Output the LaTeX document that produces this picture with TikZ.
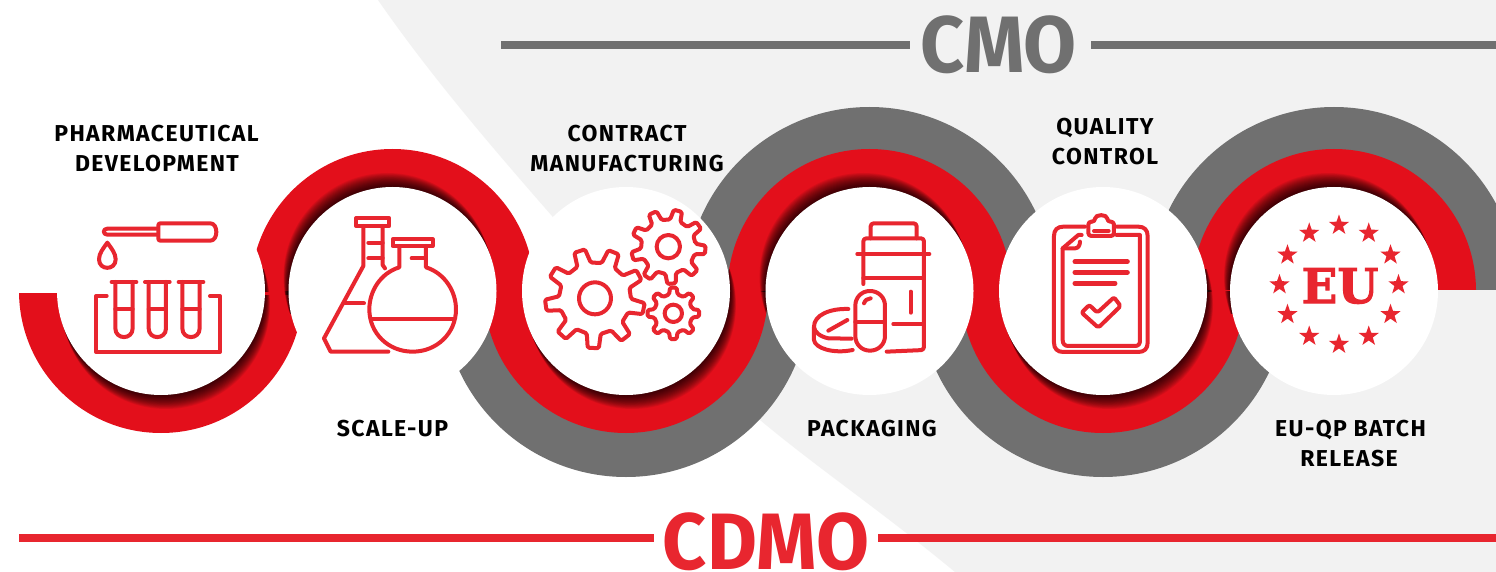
\documentclass[tikz,border=0pt]{standalone}
\usepackage{fontspec}
\setmainfont{Fira Sans}[LetterSpace=6]
\newfontfamily\headfont{Fira Sans}[FakeStretch=0.96]
\newfontfamily\slabfont{DejaVu Serif}[FakeBold=2,FakeStretch=0.98]
\definecolor{bandred}{HTML}{E30F1B}
\definecolor{iconred}{HTML}{E8262F}
\definecolor{bandgrey}{HTML}{707070}
\definecolor{bgrey}{HTML}{F2F2F2}
\tikzset{
  disc/.style={circle,fill=white,inner sep=0pt,minimum size=208pt},
  iconline/.style={draw=iconred,line width=4pt,line cap=round,line join=round},
  zoomed/.style={x=0.33333pt,y=-0.33333pt},
  lab/.style={text=black,font=\fontsize{23}{27}\selectfont\bfseries,inner sep=0pt,anchor=base},
}
% half band: x, centre y, cut y, radius, direction (+1 lower, -1 upper), colour
\newcommand\halfband[6]{\begin{scope}
  \clip (#1-#4-1,#3) rectangle (#1+#4+1,#3+#5*#4+#5*3);
  \fill[#6] (#1,#2) circle[radius=#4];
\end{scope}}
\newcommand\softshadow[3]{\foreach \k in {1,...,16}{
    \fill[black,opacity=0.07] ({#1+#2*\k/16},{291+#3*\k/16}) circle[radius=104];
  }}
% red band with soft shadow of the disc: x, cut y, dir, shadow dx, dy
\newcommand\redband[5]{\begin{scope}
  \clip (#1-143,#2) rectangle (#1+143,#2+#3*146);
  \fill[bandred] (#1,291) circle[radius=142];
  \softshadow{#1}{#4}{#5}
\end{scope}}
% tail of a disc's shadow on the neighbouring band: x, neighbour x, dir, dx, dy
\newcommand\shadowtail[5]{\begin{scope}
  \clip (#2,291) circle[radius=142];
  \clip (#1-143,291) rectangle (#1+143,291-#3*22);
  \softshadow{#1}{#4}{#5}
\end{scope}}
\newcommand\gearicon[6]{\begin{scope}[shift={(#1,#2)}]
  \pgfmathsetmacro\gs{360/#3}
  \draw[iconline,rounded corners=1.5pt] ({#6-.28*\gs}:#5)
    \foreach \k in {1,...,#3}{
      -- ({#6+(\k-1)*\gs-.28*\gs}:#5)
      -- ({#6+(\k-1)*\gs-.16*\gs}:#4)
      -- ({#6+(\k-1)*\gs+.16*\gs}:#4)
      -- ({#6+(\k-1)*\gs+.28*\gs}:#5)
    } -- cycle;
\end{scope}}
\newcommand\staricon[3]{\begin{scope}[shift={(#1,#2)}]
  \fill[iconred] (-90:#3) -- (-54:.40*#3) -- (-18:#3) -- (18:.40*#3) -- (54:#3) -- (90:.40*#3)
     -- (126:#3) -- (162:.40*#3) -- (198:#3) -- (234:.40*#3) -- cycle;
\end{scope}}
\begin{document}
\begin{tikzpicture}[x=1pt,y=-1pt]
\useasboundingbox (0,0) rectangle (1496,572);
\fill[white] (0,0) rectangle (1496,572);
% grey field
\fill[bgrey] (378,0) -- (1496,0) -- (1496,572) -- (955,572)
  .. controls (880,510) and (820,470) .. (760,420)
  .. controls (680,350) and (610,285) .. (552,216)
  .. controls (490,145) and (430,75) .. (378,0) -- cycle;
% grey bands
\halfband{626}{293}{291}{184}{1}{bandgrey}
\halfband{869.5}{291}{291}{184}{-1}{bandgrey}
\halfband{1103}{293}{291}{184}{1}{bandgrey}
\halfband{1334}{291}{289.5}{184}{-1}{bandgrey}
% red bands
\redband{161}{293}{1}{5}{14}
\redband{392.5}{294}{-1}{-5}{-14}
\redband{626}{291}{1}{6}{14}
\redband{869.5}{291}{-1}{-6}{-14}
\redband{1103}{288.5}{1}{6}{14}
\redband{1334}{289.5}{-1}{-6}{-14}
\shadowtail{161}{392.5}{1}{5}{14}
\shadowtail{392.5}{161}{-1}{-5}{-14}
\shadowtail{626}{869.5}{1}{6}{14}
\shadowtail{869.5}{626}{-1}{-6}{-14}
\shadowtail{1103}{1334}{1}{6}{14}
\shadowtail{1334}{1103}{-1}{-6}{-14}
% discs
\node[disc] (d1) at (161,291) {};
\node[disc] (d2) at (392.5,291) {};
\node[disc] (d3) at (626,291) {};
\node[disc] (d4) at (869.5,291) {};
\node[disc] (d5) at (1103,291) {};
\node[disc] (d6) at (1334,291) {};
% headings
\draw[bandgrey,line width=8pt] (501,45) -- (910,45);
\draw[bandgrey,line width=8pt] (1091,45) -- (1496,45);
\node[text=bandgrey,inner sep=0pt,font=\fontsize{80}{80}\selectfont\headfont\bfseries] (cmo) at (998.5,45) {CMO};
\draw[iconred,line width=8pt] (19,538) -- (654,538);
\draw[iconred,line width=8pt] (878,538) -- (1496,538);
\node[text=iconred,inner sep=0pt,font=\fontsize{80}{80}\selectfont\headfont\bfseries] (cdmo) at (766,542) {CDMO};
% labels
\node[lab] (l1a) at (156.5,142) {PHARMACEUTICAL};
\node[lab] (l1b) at (157,172) {DEVELOPMENT};
\node[lab] (l2) at (392.5,436) {SCALE-UP};
\node[lab] (l3a) at (627,142) {CONTRACT};
\node[lab] (l3b) at (627,172) {MANUFACTURING};
\node[lab] (l4) at (872,436) {PACKAGING};
\node[lab] (l5a) at (1105,135) {QUALITY};
\node[lab] (l5b) at (1105,165) {CONTROL};
\node[lab] (l6a) at (1350.5,436) {EU-QP BATCH};
\node[lab] (l6b) at (1349,466) {RELEASE};
% icon 1
\begin{scope}[zoomed,shift={(0,540)}]
  \draw[iconline] (470,146) -- (322,146) .. controls (308,146) and (308,164) .. (322,164) -- (470,164);
  \draw[iconline,rounded corners=2pt] (475,130) -- (625,130) .. controls (655,130) and (655,182) .. (625,182) -- (475,182) -- cycle;
  \draw[iconline] (322,188) .. controls (310,205) and (297,220) .. (297,238) .. controls (297,272) and (347,272) .. (347,238) .. controls (347,220) and (334,205) .. (322,188) -- cycle;
  \foreach \cx in {372,472,573}{
    \draw[iconline] (\cx-37,306) -- (\cx+37,306);
    \draw[iconline] (\cx-26,306) -- (\cx-26,445) .. controls (\cx-26,480) and (\cx+26,480) .. (\cx+26,445) -- (\cx+26,306);
    \draw[iconline] (\cx-26,388) -- (\cx+26,388);
  }
  \draw[iconline] (320,348) -- (288,348) -- (288,516) -- (660,516) -- (660,348) -- (630,348);
\end{scope}
% icon 2
\begin{scope}[zoomed,shift={(0,540)}]
  \draw[iconline] (1068,115) -- (1168,115) -- (1168,138) -- (1068,138) -- cycle;
  \draw[iconline] (1090,138) -- (1090,258) -- (972,475) -- (992,515) -- (1165,515);
  \draw[iconline] (1148,138) -- (1148,255) -- (1155,265);
  \draw[iconline] (1105,188) -- (1148,188);
  \draw[iconline] (1105,235) -- (1148,235);
  \draw[iconline] (1035,370) -- (1092,370);
  \draw[iconline] (1178,178) -- (1298,178) -- (1298,198) -- (1178,198) -- cycle;
  \draw[iconline] (1198,198) -- (1198,262) .. controls (1140,280) and (1108,335) .. (1108,388)
     .. controls (1108,460) and (1165,515) .. (1238,515) .. controls (1310,515) and (1368,460) .. (1368,388)
     .. controls (1368,335) and (1335,280) .. (1278,262) -- (1278,198);
  \draw[iconline] (1115,416) -- (1360,416);
  \draw[iconline] (1235,235) -- (1278,235);
\end{scope}
% icon 3
\begin{scope}[zoomed,shift={(1500,540)}]
  \gearicon{285}{355}{9}{150}{108}{12}
  \draw[iconline] (285,355) circle[radius=48];
  \gearicon{505}{200}{9}{112}{82}{5}
  \draw[iconline] (505,200) circle[radius=35];
  \gearicon{520}{400}{8}{78}{58}{0}
  \draw[iconline] (520,400) circle[radius=26];
\end{scope}
% icon 4
\begin{scope}[zoomed,shift={(1500,540)}]
  \draw[iconline,rounded corners=3pt] (1112,175) -- (1112,130) -- (1250,130) -- (1250,175);
  \draw[iconline,rounded corners=3pt] (1090,312) -- (1090,175) -- (1272,175) -- (1272,510) -- (1160,515);
  \draw[iconline] (1072,222) -- (1288,222);
  \draw[iconline] (1090,295) -- (1272,295);
  \draw[iconline] (1232,335) -- (1232,398);
  \draw[iconline] (1180,432) -- (1272,432);
  \draw[iconline] (1110,333) .. controls (1085,333) and (1066,352) .. (1066,377) -- (1066,468)
     .. controls (1066,493) and (1085,512) .. (1110,512) .. controls (1135,512) and (1155,493) .. (1155,468)
     -- (1155,377) .. controls (1155,352) and (1135,333) .. (1110,333) -- cycle;
  \draw[iconline] (1066,425) -- (1155,425);
  \draw[iconline] (1092,370) .. controls (1096,360) and (1102,356) .. (1112,355);
  \draw[iconline] (1045,387) .. controls (990,385) and (942,405) .. (942,440)
     .. controls (942,455) and (960,470) .. (985,475) -- (1055,476);
  \draw[iconline] (942,440) -- (942,480) .. controls (945,505) and (1000,522) .. (1058,510);
  \draw[iconline] (985,452) -- (1042,420);
\end{scope}
% icon 5
\begin{scope}[zoomed,shift={(3000,540)}]
  \draw[iconline] (255,140) -- (190,140) .. controls (172,140) and (162,150) .. (162,168) -- (162,488)
     .. controls (162,506) and (172,516) .. (190,516) -- (415,516) .. controls (433,516) and (443,506) .. (443,488)
     -- (443,168) .. controls (443,150) and (433,140) .. (415,140) -- (350,140);
  \draw[iconline] (245,165) -- (235,165) -- (188,205) -- (188,480) .. controls (188,492) and (195,498) .. (205,498)
     -- (405,498) .. controls (415,498) and (420,492) .. (420,482) -- (420,165) -- (350,165);
  \draw[iconline] (188,205) -- (225,205) .. controls (235,205) and (240,195) .. (240,185);
  \draw[iconline,rounded corners=3pt] (265,168) -- (265,125) -- (285,125) .. controls (285,102) and (322,102) .. (322,125) -- (342,125) -- (342,168) -- cycle;
  \draw[iconline] (282,153) -- (326,153);
  \draw[iconline,line width=5pt] (225,245) -- (382,245);
  \draw[iconline,line width=5pt] (225,277) -- (382,277);
  \draw[iconline,line width=5pt] (225,310) -- (345,310);
  \draw[iconline,rounded corners=2pt] (245,398) -- (268,375) -- (292,398) -- (342,352) -- (362,378) -- (295,443) -- cycle;
\end{scope}
% icon 6
\begin{scope}[zoomed,shift={(3000,540)}]
  \foreach \a in {0,30,...,330}{
    \staricon{{1017+178.5*cos(\a)}}{{314+178.5*sin(\a)}}{32}
  }
  \node[text=iconred,inner sep=0pt,font=\fontsize{48}{48}\selectfont\slabfont\bfseries] (eu) at (1020,318) {EU};
\end{scope}
\end{tikzpicture}
\end{document}
